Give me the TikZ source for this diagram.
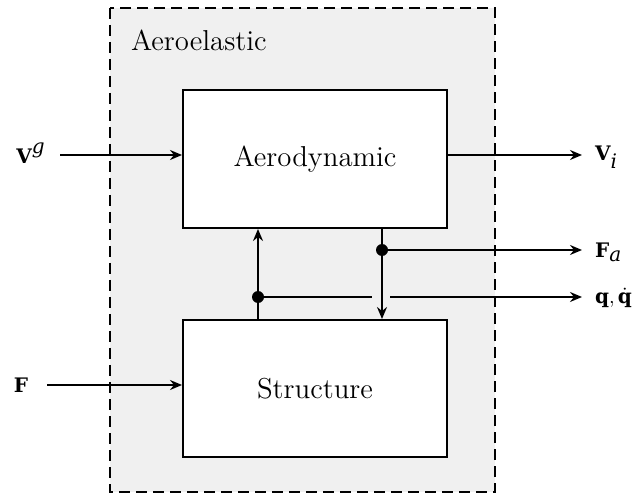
\documentclass[tikz,border=0pt]{standalone}
\usepackage{fontspec}
\newfontfamily\dvs{DejaVu Serif}
\usetikzlibrary{arrows.meta}

\tikzset{
  block/.style={draw, line width=1pt, fill=white, minimum width=132pt, font=\Large},
  sig/.style={line width=1pt, -{Stealth[length=6pt,width=5pt,inset=2pt]}},
  lbl/.style={font=\normalsize\dvs},
}

\begin{document}
\begin{tikzpicture}[x=0.5pt,y=-0.5pt]
      \useasboundingbox (0,0) rectangle (632,497);
      \draw[line width=1pt, dash pattern=on 5.5pt off 3pt, fill=black!6] (110,8) rectangle (495,492);
      \node[anchor=west, font=\Large] (ael) at (124,40) {Aeroelastic};

      \node[block, minimum height=69pt] (aero) at (315,159) {Aerodynamic};
      \node[block, minimum height=68.5pt] (struct) at (315,388.5) {Structure};

      % inputs
      \node[lbl] (vg) at (31,153) {$\textbf{V}^{\textit{g}}$};
      \node[lbl] (f) at (21,385) {$\textbf{F}$};
      \coordinate (vgs) at (60,155);
      \coordinate (fs) at (47,385);
      \draw[sig] (vgs) -- (vgs -| aero.west);
      \draw[sig] (fs) -- (fs -| struct.west);

      % outputs
      \node[lbl, anchor=west] (vi) at (588,157) {$\textbf{V}_{\textit{i}}$};
      \node[lbl, anchor=west] (fa) at (588,252) {$\textbf{F}_{\textit{a}}$};
      \node[lbl, anchor=west] (q) at (588,298) {$\textbf{q}, \dot{\textbf{q}}$};
      \draw[sig] (aero.east |- 0,155) -- (582,155);

      % coupling
      \coordinate (fork) at (382,250);
      \coordinate (join) at (258,297);
      \draw[sig] (aero.south -| fork) -- (struct.north -| fork);
      \draw[sig] (struct.north -| join) -- (aero.south -| join);
      \draw[sig] (fork) -- (582,250);
      \draw[line width=1pt] (join) -- (372,297);
      \draw[sig] (390,297) -- (582,297);
      \fill (fork) circle (3pt);
      \fill (join) circle (3pt);
\end{tikzpicture}
\end{document}
